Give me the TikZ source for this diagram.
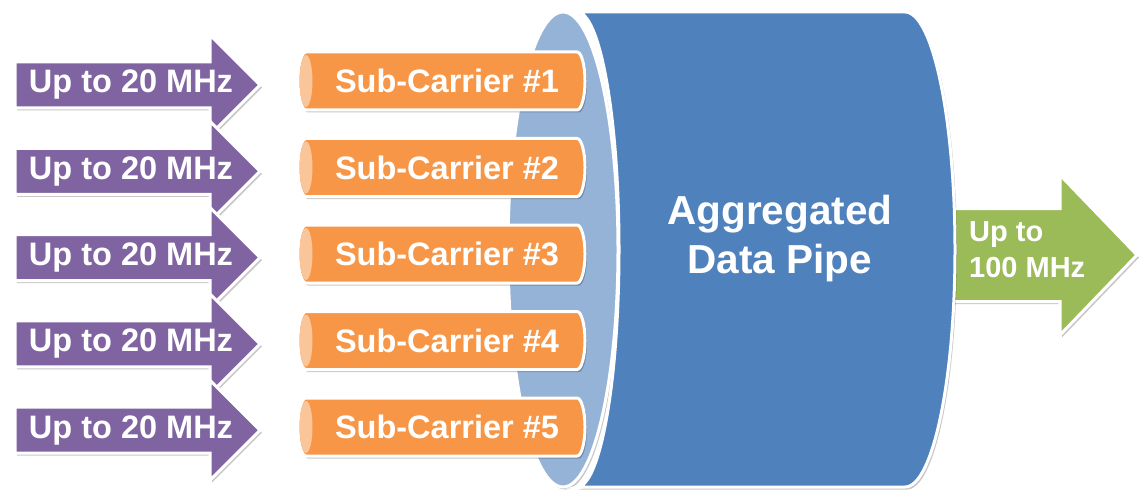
\documentclass[tikz,border=0pt]{standalone}
\usepackage{fontspec}
\setmainfont{Liberation Sans}
\usetikzlibrary{shadows}
\definecolor{purp}{HTML}{8064A2}
\definecolor{orng}{HTML}{F79646}
\definecolor{peach}{HTML}{FBC59A}
\definecolor{bluedark}{HTML}{4F81BD}
\definecolor{bluelight}{HTML}{95B3D7}
\definecolor{grn}{HTML}{9BBB59}
\tikzset{
  shade3/.style={drop shadow={shadow xshift=2pt, shadow yshift=-2.5pt, opacity=0.22, fill=black}},
  inarrow/.style={fill=purp, draw=white, line width=3pt, line join=miter, shade3},
  tube/.style={fill=orng, draw=white, line width=3pt, shade3},
  tubeend/.style={fill=peach, draw=none},
  pipe/.style={draw=white, line width=3pt, shade3},
  outarrow/.style={fill=grn, draw=white, line width=3pt, line join=miter, shade3},
  lbl/.style={text=white, inner sep=0pt, font=\bfseries\fontsize{32.5}{36}\selectfont},
}
\begin{document}
\begin{tikzpicture}[x=1pt, y=1pt]
\useasboundingbox (0,0) rectangle (1140,491);
\fill[white] (0,0) rectangle (1140,491);

% output arrow, partly hidden behind the pipe
\path[outarrow] (930,282.5) -- (1060,282.5) -- (1060,316) -- (1137,236)
  -- (1060,156) -- (1060,189.5) -- (930,189.5) -- cycle;
\node[lbl, font=\bfseries\fontsize{29}{36}\selectfont, align=left, anchor=west]
  (outlbl) at (969,241) {Up to\\100 MHz};

% aggregated data pipe (horizontal cylinder)
\path[pipe, fill=bluelight] (563,241.5) ellipse [x radius=55, y radius=237.5];
\path[pipe, fill=bluedark] (577,479) -- (905,479)
  arc[start angle=90, end angle=-90, x radius=50, y radius=237.5]
  -- (577,4)
  arc[start angle=-90, end angle=90, x radius=42, y radius=237.5] -- cycle;
\node[lbl, font=\bfseries\fontsize{40.5}{49}\selectfont, align=center]
  (pipelbl) at (780,252) {Aggregated\\Data Pipe};

% input bandwidth arrows
\foreach \i in {1,...,5}{
  \pgfmathsetmacro{\c}{406-86.3*(\i-1)}
  \path[inarrow] (15,\c+23) -- (210,\c+23) -- (210,\c+50) -- (260,\c)
    -- (210,\c-50) -- (210,\c-23) -- (15,\c-23) -- cycle;
  \node[lbl] (in\i) at (131,\c) {Up to 20 MHz};
}

% sub-carrier tubes
\foreach \i in {1,...,5}{
  \pgfmathsetmacro{\c}{410-86.5*(\i-1)}
  \path[tube] (306,\c+29) -- (577,\c+29)
    arc[start angle=90, end angle=-90, x radius=8, y radius=29]
    -- (306,\c-29)
    arc[start angle=270, end angle=90, x radius=8, y radius=29] -- cycle;
  \path[tubeend] (306,\c) ellipse [x radius=6.5, y radius=26];
  \node[lbl] (sc\i) at (447,\c) {Sub-Carrier \#\i};
}
\end{tikzpicture}
\end{document}
